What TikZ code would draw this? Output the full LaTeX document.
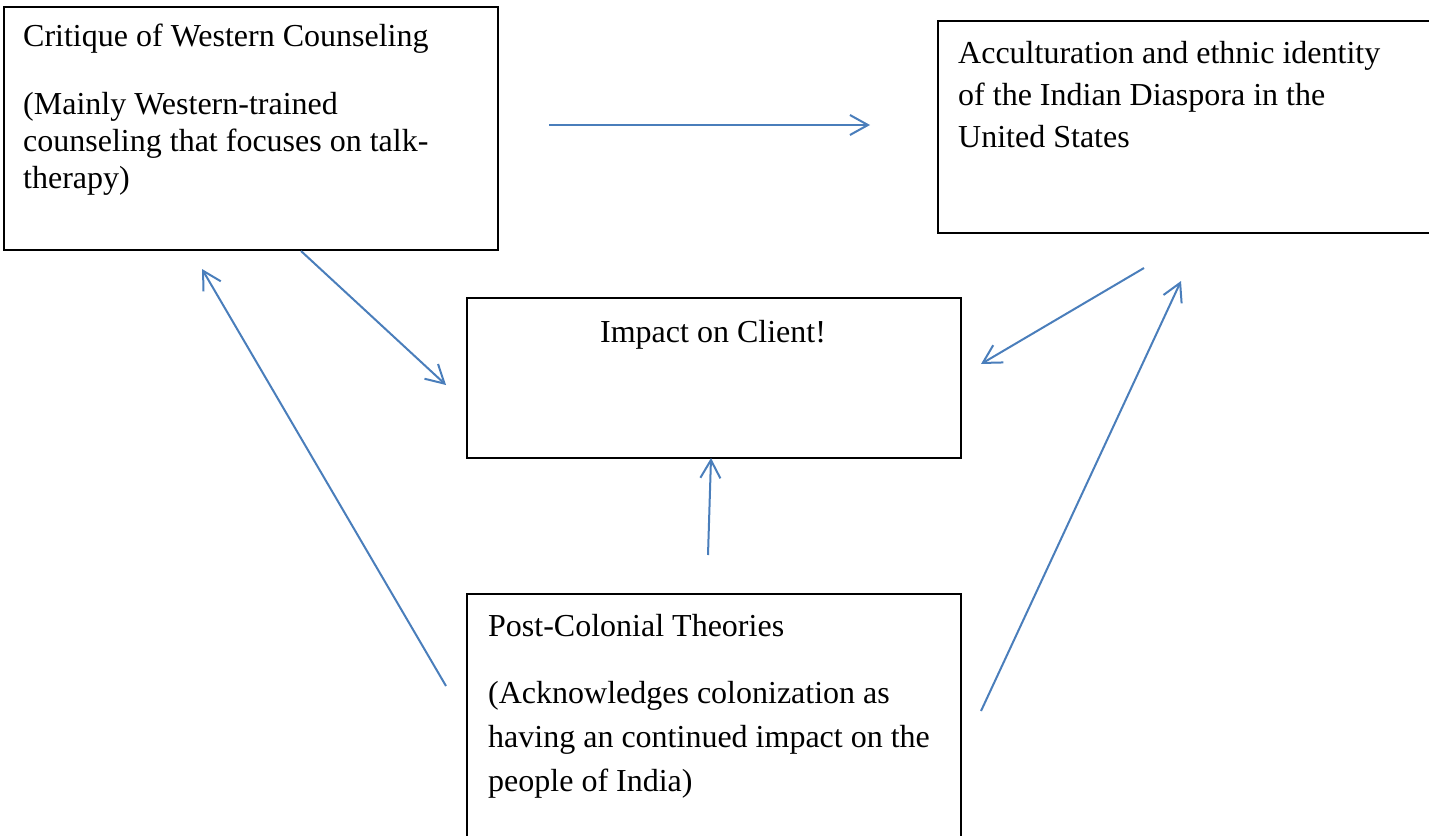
\documentclass[tikz,border=0pt]{standalone}
\usepackage{fontspec}
\setmainfont{Liberation Serif}
\usetikzlibrary{arrows.meta}
\definecolor{linkblue}{HTML}{4A7EBB}

\begin{document}
\begin{tikzpicture}[x=1pt, y=-1pt,
  box/.style={draw=black, line width=2pt, anchor=north west, inner sep=0pt},
  boxtext/.style={anchor=base west, inner sep=0pt, align=left,
    font=\fontsize{32pt}{#1}\selectfont},
  boxtext/.default=41pt,
  link/.style={draw=linkblue, line width=2pt,
    -{Straight Barb[length=18pt, width=20pt]}}]
  % page frame, pixel units
  \useasboundingbox (0,0) rectangle (1429,835);

  % the four boxes (two run off the page edge, as in the source)
  \node[box, minimum width=494pt, minimum height=243pt] (critique) at (3,6) {};
  \node[box, minimum width=494pt, minimum height=212pt] (accult) at (937,20) {};
  \node[box, minimum width=494pt, minimum height=160pt] (impact) at (466,297) {};
  \node[box, minimum width=494pt, minimum height=250pt] (postcol) at (466,593) {};

  % box texts (multi-line nodes sit on the baseline of their last line)
  \node[boxtext] (critiqueTitle) at (23,46) {Critique of Western Counseling};
  \node[boxtext=37pt] (critiqueBody) at (23,188)
    {(Mainly Western-trained\\counseling that focuses on talk-\\therapy)};
  \node[boxtext=42pt] (accultText) at (958,147)
    {Acculturation and ethnic identity\\of the Indian Diaspora in the\\United States};
  \node[boxtext, anchor=base] (impactText) at (713,342) {Impact on Client!};
  \node[boxtext] (postcolTitle) at (488,636) {Post-Colonial Theories};
  \node[boxtext=44pt] (postcolBody) at (488,791)
    {(Acknowledges colonization as\\having an continued impact on the\\people of India)};

  % free arrow ends
  \coordinate (critOut) at (549,125);   \coordinate (accIn) at (870,125);
  \coordinate (critDown) at (301,251);  \coordinate (impIn1) at (446,385);
  \coordinate (accDown) at (1144,268);  \coordinate (impIn2) at (981,364);
  \coordinate (postUp) at (708,555);    \coordinate (impIn3) at (711,458);
  \coordinate (postLeft) at (446,686);  \coordinate (critIn) at (202,269);
  \coordinate (postRight) at (981,711); \coordinate (accIn2) at (1181,281);

  \draw[link] (critOut) -- (accIn);
  \draw[link] (critDown) -- (impIn1);
  \draw[link] (accDown) -- (impIn2);
  \draw[link] (postUp) -- (impIn3);
  \draw[link] (postLeft) -- (critIn);
  \draw[link] (postRight) -- (accIn2);
\end{tikzpicture}
\end{document}
